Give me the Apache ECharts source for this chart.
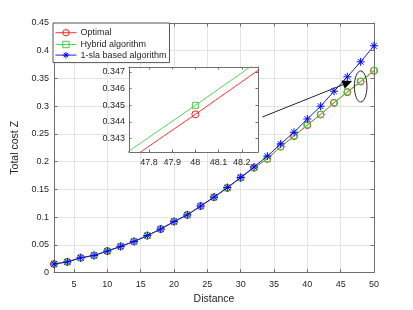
<!DOCTYPE html>
<html>
<head>
<meta charset="utf-8">
<script src="https://cdn.jsdelivr.net/npm/echarts@6/dist/echarts.min.js"></script>
<style>
html,body{margin:0;padding:0;background:#fff;}
#main{width:413px;height:310px;}
</style>
</head>
<body>
<div id="main"></div>
<script>
// ---- data ----
var distance = [2,4,6,8,10,12,14,16,18,20,22,24,26,28,30,32,34,36,38,40,42,44,46,48,50];
var optimal  = [0.0155,0.0193,0.0267,0.0309,0.0388,0.0473,0.0561,0.0667,0.0785,0.0920,0.1040,0.1200,0.1360,0.1525,0.1710,0.1890,0.2050,0.2270,0.2460,0.2660,0.2850,0.3060,0.3253,0.34446,0.3640];
var hybrid   = [0.0155,0.0193,0.0267,0.0309,0.0388,0.0473,0.0561,0.0667,0.0785,0.0920,0.1040,0.1200,0.1360,0.1525,0.1710,0.1890,0.2052,0.2272,0.2462,0.2662,0.2853,0.3063,0.3258,0.34500,0.3645];
var slaBased = [0.0155,0.0193,0.0267,0.0309,0.0388,0.0473,0.0561,0.0667,0.0785,0.0920,0.1040,0.1200,0.1360,0.1535,0.1715,0.1905,0.2100,0.2320,0.2530,0.2770,0.3000,0.3270,0.3530,0.3800,0.4090];
var seriesNames = ['Optimal','Hybrid algorithm','1-sla based algorithm'];
var xLabelName = 'Distance';
var yLabelName = 'Total cost Z';
// zoomed inset window (data units)
var insetX = [47.714, 48.27];
var insetY = [0.3422, 0.3473];
// annotation anchors (data units)
var ellipseCenter = [48, 0.3356];
var arrowFrom = [33.25, 0.2805];
var arrowTo = [46.65, 0.345];

function pairs(xs, ys){ return xs.map(function(x,i){ return [x, ys[i]]; }); }

var RED = '#ff1a1a', GREEN = '#44cc44', BLUE = '#0000ff';
var AX = '#6e6e6e', TXT = '#262626', GRIDC = '#e3e3e3';
var FONT = 'Liberation Sans, Arial, Helvetica, sans-serif';
var starPath = 'path://M0,5L10,5M5,0L5,10M1.5,1.5L8.5,8.5M8.5,1.5L1.5,8.5';

function mkSeries(name, ys, color, symbol, size, xi, yi, z){
  return {
    name: name, type: 'line', data: pairs(distance, ys),
    xAxisIndex: xi, yAxisIndex: yi, z: z,
    symbol: symbol, symbolSize: size, symbolKeepAspect: true,
    showAllSymbol: true,
    lineStyle: {color: color, width: 0.9},
    itemStyle: {color: symbol === starPath ? color : 'none', borderColor: color, borderWidth: 1},
    emphasis: {disabled: true},
    animation: false, clip: true
  };
}

var chart = echarts.init(document.getElementById('main'), null, {renderer:'canvas'});

function valAxis(o){
  var base = {
    type: 'value',
    axisLine: {show: true, onZero: false, lineStyle: {color: AX, width: 1}},
    axisTick: {show: true, inside: true, length: 3.5, lineStyle: {color: AX}},
    axisLabel: {color: TXT, fontSize: 9, fontFamily: FONT},
    splitLine: {show: false},
    nameTextStyle: {color: TXT, fontSize: 10.5, fontFamily: FONT}
  };
  for (var k in o) base[k] = o[k];
  return base;
}

var option = {
  animation: false,
  backgroundColor: '#fff',
  textStyle: {fontFamily: FONT},
  grid: [
    {left: 54, top: 23, width: 320, height: 253, containLabel: false},
    {left: 129, top: 67, width: 129, height: 85, show: true, backgroundColor: '#fff', borderWidth: 0, z: 4}
  ],
  legend: {
    data: seriesNames, orient: 'vertical', left: 53, top: 23,
    backgroundColor: '#fff', borderColor: '#555', borderWidth: 1,
    padding: [4, 3, 3, 2], itemGap: 0.4, itemWidth: 21, itemHeight: 8,
    lineStyle: {width: 0.9},
    itemStyle: {borderWidth: 1},
    textStyle: {color: TXT, fontSize: 9, lineHeight: 8, fontFamily: FONT, padding: [0,0,0,-1]},
    selectedMode: false, z: 20
  },
  xAxis: [
    valAxis({gridIndex: 0, position: 'bottom', min: 2, max: 50, splitNumber: 10,
      name: xLabelName, nameLocation: 'middle', nameGap: 20.5,
      axisLabel: {color: TXT, fontSize: 9, fontFamily: FONT, margin: 7.5, showMinLabel: false},
      splitLine: {show: true, lineStyle: {color: GRIDC, width: 1}}}),
    valAxis({gridIndex: 0, position: 'top', min: 2, max: 50, splitNumber: 10,
      axisLabel: {show: false}}),
    valAxis({gridIndex: 1, position: 'bottom', min: insetX[0], max: insetX[1], splitNumber: 5, z: 5,
      axisLabel: {color: TXT, fontSize: 9, fontFamily: FONT, margin: 6.5, showMinLabel: false, showMaxLabel: false},
      axisTick: {show: true, inside: true, length: 2.5, lineStyle: {color: AX}}}),
    valAxis({gridIndex: 1, position: 'top', min: insetX[0], max: insetX[1], splitNumber: 5, z: 5,
      axisLabel: {show: false},
      axisTick: {show: true, inside: true, length: 2.5, lineStyle: {color: AX}}})
  ],
  yAxis: [
    valAxis({gridIndex: 0, position: 'left', min: 0, max: 0.45, interval: 0.05,
      name: yLabelName, nameLocation: 'middle', nameGap: 27,
      axisLabel: {color: TXT, fontSize: 9, fontFamily: FONT, margin: 5},
      splitLine: {show: true, lineStyle: {color: GRIDC, width: 1}}}),
    valAxis({gridIndex: 0, position: 'right', min: 0, max: 0.45, interval: 0.05,
      axisLabel: {show: false}}),
    valAxis({gridIndex: 1, position: 'left', min: insetY[0], max: insetY[1], splitNumber: 5, z: 5,
      axisLabel: {color: TXT, fontSize: 9, fontFamily: FONT, margin: 4, showMinLabel: false, showMaxLabel: false},
      axisTick: {show: true, inside: true, length: 2.5, lineStyle: {color: AX}}}),
    valAxis({gridIndex: 1, position: 'right', min: insetY[0], max: insetY[1], splitNumber: 5, z: 5,
      axisLabel: {show: false},
      axisTick: {show: true, inside: true, length: 2.5, lineStyle: {color: AX}}})
  ],
  series: [
    mkSeries(seriesNames[0], optimal, RED, 'circle', 7, 0, 0, 2),
    mkSeries(seriesNames[1], hybrid, GREEN, 'rect', 5.5, 0, 0, 3),
    mkSeries(seriesNames[2], slaBased, BLUE, starPath, 8, 0, 0, 4),
    mkSeries(seriesNames[0], optimal, RED, 'circle', 7, 2, 2, 6),
    mkSeries(seriesNames[1], hybrid, GREEN, 'rect', 6, 2, 2, 7)
  ]
};
chart.setOption(option);

// annotations: ellipse around the zoomed point and an arrow from the inset
var c = chart.convertToPixel({gridIndex: 0}, ellipseCenter);
var p0 = chart.convertToPixel({gridIndex: 0}, arrowFrom);
var p1 = chart.convertToPixel({gridIndex: 0}, arrowTo);
var dx = p1[0]-p0[0], dy = p1[1]-p0[1], L = Math.sqrt(dx*dx+dy*dy);
var ux = dx/L, uy = dy/L, hl = 9, hw = 4;
var bx = p1[0]-ux*hl, by = p1[1]-uy*hl;
chart.setOption({
  graphic: [
    {type: 'ellipse', z: 30, shape: {cx: c[0], cy: c[1], rx: 6.3, ry: 15.5},
     style: {fill: 'none', stroke: '#262626', lineWidth: 1}},
    {type: 'line', z: 30, shape: {x1: p0[0], y1: p0[1], x2: bx, y2: by},
     style: {stroke: '#262626', lineWidth: 1}},
    {type: 'polygon', z: 30, shape: {points: [[p1[0],p1[1]],[bx - uy*hw, by + ux*hw],[bx + uy*hw, by - ux*hw]]},
     style: {fill: '#000', stroke: '#000', lineWidth: 0.5}}
  ]
});
</script>
</body>
</html>
